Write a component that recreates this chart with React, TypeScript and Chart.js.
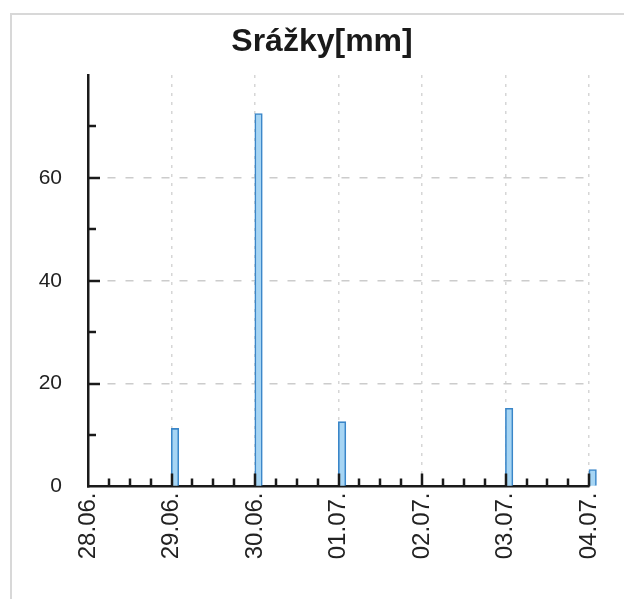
import React, { useEffect, useRef } from "react";
import { Chart, registerables } from "chart.js";

Chart.register(...registerables);

// ---- data ----
const dayLabels = ["28.06.", "29.06.", "30.06.", "01.07.", "02.07.", "03.07.", "04.07."];
const rainDayIndex = [1, 2, 3, 5, 6]; // index into dayLabels
const rainValues = [11.3, 72.5, 12.6, 15.2, 3.3]; // mm
const measureHours = 2; // each bar covers the first 2 hours of the day
const yMax = 80;
const yLabelValues = [0, 20, 40, 60];
const titleText = "Srážky[mm]";

const HOURS_PER_DAY = 24;
const AXIS_COLOR = "#1a1a1a";

const innerTicks = {
  id: "innerTicks",
  afterDatasetsDraw(chart: any) {
    const { ctx, scales } = chart;
    const x = scales.x;
    const y = scales.y;
    ctx.save();
    ctx.strokeStyle = AXIS_COLOR;
    ctx.lineWidth = 2.5;
    x.ticks.forEach((t: any) => {
      if (t.value === 0) return;
      const px = Math.round(x.getPixelForValue(t.value));
      const len = t.value % HOURS_PER_DAY === 0 ? 13 : 8;
      ctx.beginPath();
      ctx.moveTo(px, y.bottom);
      ctx.lineTo(px, y.bottom - len);
      ctx.stroke();
    });
    y.ticks.forEach((t: any) => {
      if (t.value === 0 || t.value === yMax) return;
      const py = Math.round(y.getPixelForValue(t.value));
      const len = yLabelValues.includes(t.value) ? 12 : 8;
      ctx.beginPath();
      ctx.moveTo(x.left, py);
      ctx.lineTo(x.left + len, py);
      ctx.stroke();
    });
    ctx.restore();
  },
};

export default function App() {
  const ref = useRef<HTMLCanvasElement | null>(null);

  useEffect(() => {
    if (!ref.current) return;
    const points = rainDayIndex.map((d, i) => ({
      x: d * HOURS_PER_DAY + measureHours / 2,
      y: rainValues[i],
    }));
    const chart = new Chart(ref.current, {
      type: "bar",
      data: {
        datasets: [
          {
            data: points as any,
            backgroundColor: "#a6d5f4",
            borderColor: "#3a86c8",
            borderWidth: 1.6,
            barThickness: 7.5,
            clip: false as any,
          },
        ],
      },
      options: {
        animation: false,
        responsive: false,
        devicePixelRatio: 1,
        layout: { padding: { top: 75, right: 34.5, left: 0, bottom: 0 } },
        plugins: {
          legend: { display: false },
          tooltip: { enabled: false },
          title: { display: false },
        },
        scales: {
          x: {
            type: "linear",
            min: 0,
            max: (dayLabels.length - 1) * HOURS_PER_DAY,
            offset: false,
            afterFit: (s: any) => {
              s.height = 599 - 486.5;
            },
            grid: {
              offset: false,
              drawTicks: false,
              lineWidth: 1.5,
              color: (c: any) =>
                c.tick && c.tick.value > 0 && c.tick.value % HOURS_PER_DAY === 0
                  ? "#d6d6d6"
                  : "rgba(0,0,0,0)",
            },
            border: { display: true, color: AXIS_COLOR, width: 2.5, dash: [3, 6] },
            ticks: {
              stepSize: 6,
              autoSkip: false,
              minRotation: 90,
              maxRotation: 90,
              padding: 6,
              color: "#222222",
              font: { family: "'Liberation Sans', Arial, sans-serif", size: 24 },
              callback: (v: any) =>
                Number(v) % HOURS_PER_DAY === 0 ? dayLabels[Number(v) / HOURS_PER_DAY] : "",
            },
          },
          y: {
            type: "linear",
            min: 0,
            max: yMax,
            afterFit: (s: any) => {
              s.width = 88;
            },
            grid: {
              drawTicks: false,
              lineWidth: 1.5,
              color: (c: any) =>
                c.tick && c.tick.value > 0 && yLabelValues.includes(c.tick.value)
                  ? "#cccccc"
                  : "rgba(0,0,0,0)",
            },
            border: { display: true, color: AXIS_COLOR, width: 2.5, dash: [8, 10] },
            ticks: {
              stepSize: 10,
              autoSkip: false,
              padding: 26,
              color: "#222222",
              font: { family: "'Liberation Sans', Arial, sans-serif", size: 21 },
              callback: (v: any) => (yLabelValues.includes(Number(v)) ? String(v) : ""),
            },
          },
        },
      },
      plugins: [innerTicks],
    });
    return () => chart.destroy();
  }, []);

  return (
    <div
      style={{
        position: "fixed",
        left: 0,
        top: 0,
        width: 624,
        height: 599,
        background: "#ffffff",
        overflow: "hidden",
      }}
    >
      <div
        style={{
          position: "absolute",
          left: 10,
          top: 13,
          width: 700,
          height: 700,
          borderLeft: "2px solid #d8d8d8",
          borderTop: "2px solid #d8d8d8",
        }}
      />
      <canvas
        ref={ref}
        width={624}
        height={599}
        style={{ position: "absolute", left: 0, top: 0 }}
      />
      <div
        style={{
          position: "absolute",
          left: 0,
          width: 644,
          top: 21,
          textAlign: "center",
          fontFamily: "'Liberation Sans', Arial, sans-serif",
          fontWeight: "bold",
          fontSize: 32,
          lineHeight: "38px",
          color: "#1a1a1a",
        }}
      >
        {titleText}
      </div>
    </div>
  );
}
